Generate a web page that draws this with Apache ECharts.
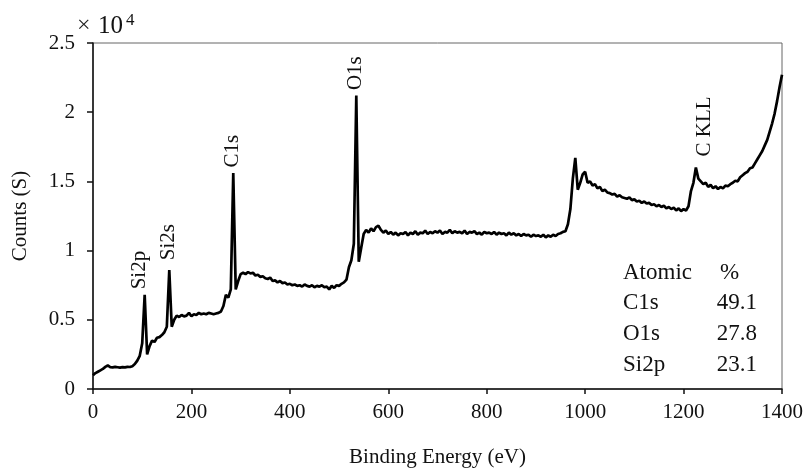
<!DOCTYPE html>
<html>
<head>
<meta charset="utf-8">
<script src="https://cdn.jsdelivr.net/npm/echarts@6/dist/echarts.min.js"></script>
<style>
  html, body { margin: 0; padding: 0; background: #fff; }
  #main { width: 810px; height: 474px; }
</style>
</head>
<body>
<div id="main"></div>
<script>
// XPS survey spectrum, one reading every 5 eV from 0 to 1400 eV
const energyStep = 5
const counts = [
  1000, 1150, 1250, 1350, 1450, 1600, 1700, 1580, 1560, 1600,
  1570, 1540, 1580, 1560, 1600, 1590, 1650, 1800, 2050, 2400,
  3300, 6800, 2500, 3100, 3500, 3400, 3700, 3750, 3900, 4100,
  4500, 8600, 4500, 5000, 5300, 5200, 5350, 5250, 5300, 5500,
  5250, 5400, 5350, 5500, 5400, 5450, 5400, 5500, 5450, 5400,
  5450, 5500, 5600, 6000, 6800, 6600, 7200, 15600, 7200, 7800,
  8300, 8400, 8300, 8450, 8350, 8400, 8200, 8250, 8100, 8150,
  8000, 7950, 8050, 7800, 7850, 7700, 7800, 7650, 7700, 7550,
  7600, 7500, 7550, 7450, 7500, 7400, 7550, 7450, 7400, 7500,
  7350, 7450, 7400, 7500, 7350, 7400, 7200, 7450, 7300, 7500,
  7450, 7600, 7700, 7900, 8800, 9300, 10500, 21200, 9200, 10200,
  11200, 11500, 11300, 11600, 11400, 11700, 11800, 11500, 11300, 11450,
  11200, 11350, 11150, 11300, 11100, 11250, 11200, 11350, 11100, 11300,
  11200, 11400, 11150, 11300, 11250, 11450, 11200, 11350, 11250, 11400,
  11300, 11450, 11200, 11350, 11300, 11500, 11250, 11400, 11300, 11350,
  11250, 11450, 11200, 11350, 11300, 11400, 11200, 11300, 11150, 11350,
  11250, 11300, 11200, 11350, 11150, 11300, 11200, 11250, 11100, 11300,
  11150, 11250, 11100, 11200, 11050, 11200, 11100, 11150, 11000, 11150,
  11050, 11100, 11000, 11150, 10950, 11100, 11000, 11150, 11050, 11200,
  11250, 11350, 11400, 11900, 13000, 15200, 16700, 14400, 14900, 15500,
  15700, 14900, 15000, 14700, 14800, 14500, 14600, 14300, 14400, 14200,
  14150, 14050, 14100, 13900, 14000, 13850, 13800, 13750, 13850, 13650,
  13700, 13550, 13600, 13450, 13550, 13400, 13450, 13300, 13350, 13200,
  13300, 13150, 13250, 13050, 13150, 13000, 13100, 12900, 13050, 12850,
  13000, 12900, 13200, 14300, 14900, 16000, 15200, 15000, 14800, 14900,
  14600, 14750, 14500, 14650, 14450, 14600, 14500, 14700, 14650, 14800,
  14900, 15050, 15000, 15300, 15450, 15600, 15700, 15950, 16000, 16300,
  16600, 16900, 17200, 17600, 18000, 18600, 19200, 19900, 20800, 21800,
  22700
]
const energy = counts.map((c, i) => i * energyStep)

const yTickLabels = ['0', '0.5', '1', '1.5', '2', '2.5']

// peak labels: name, energy of the label, counts where the label starts
const peakNames = ['Si2p', 'Si2s', 'C1s', 'O1s', 'C KLL']
const peakEnergy = [95, 153, 284, 534, 1243]
const peakLabelBase = [7200, 9300, 16000, 21600, 16800]

// atomic composition table
const tableElements = ['C1s', 'O1s', 'Si2p']
const tablePercent = ['49.1', '27.8', '23.1']

const serif = '"Liberation Serif", "Times New Roman", serif'

var myChart = echarts.init(document.getElementById('main'))

myChart.setOption({
  animation: false,
  grid: {
    left: 93, right: 28, top: 43, bottom: 85,
    show: true, borderColor: '#666', borderWidth: 1
  },
  xAxis: {
    type: 'value',
    min: 0, max: 1400, interval: 200,
    name: 'Binding Energy (eV)',
    nameLocation: 'middle',
    nameGap: 58,
    nameTextStyle: { fontFamily: serif, fontSize: 21, color: '#111' },
    axisLine: { lineStyle: { color: '#111', width: 1.5 } },
    axisTick: { show: true, length: 5, lineStyle: { color: '#111', width: 1.5 } },
    axisLabel: {
      fontFamily: serif, fontSize: 21, color: '#111', margin: 13,
      formatter: (v) => String(v)
    },
    splitLine: { show: false }
  },
  yAxis: {
    type: 'value',
    min: 0, max: 25000, interval: 5000,
    name: 'Counts (S)',
    nameLocation: 'middle',
    nameGap: 62,
    nameTextStyle: { fontFamily: serif, fontSize: 21, color: '#111' },
    axisLine: { show: true, lineStyle: { color: '#111', width: 1.5 } },
    axisTick: { show: true, length: 6, lineStyle: { color: '#111', width: 1.5 } },
    axisLabel: {
      fontFamily: serif, fontSize: 21, color: '#111', margin: 18,
      formatter: (v) => yTickLabels[Math.round(v / 5000)]
    },
    splitLine: { show: false }
  },
  series: [{
    type: 'line',
    data: energy.map((e, i) => [e, counts[i]]),
    showSymbol: false,
    lineStyle: { color: '#000', width: 2.7 },
    clip: true
  }]
})

// texts placed after the axes exist
const graphics = []

peakNames.forEach((name, i) => {
  const p = myChart.convertToPixel({ gridIndex: 0 }, [peakEnergy[i], peakLabelBase[i]])
  graphics.push({
    type: 'text',
    x: p[0], y: p[1],
    rotation: Math.PI / 2,
    style: {
      text: name, fontFamily: serif, fontSize: 21, fill: '#111',
      align: 'left', verticalAlign: 'middle'
    }
  })
})

// exponent of the y axis
graphics.push({
  type: 'text', x: 77, y: 26,
  style: { text: '×', fontFamily: serif, fontSize: 24, fill: '#222', align: 'left', verticalAlign: 'middle' }
})
graphics.push({
  type: 'text', x: 98, y: 26,
  style: { text: '10', fontFamily: serif, fontSize: 25, fill: '#111', align: 'left', verticalAlign: 'middle' }
})
graphics.push({
  type: 'text', x: 126, y: 21,
  style: { text: '4', fontFamily: serif, fontSize: 17, fill: '#111', align: 'left', verticalAlign: 'middle' }
})

// atomic % table
const rowY = [273, 303, 334, 365]
graphics.push({
  type: 'text', x: 623, y: rowY[0],
  style: { text: 'Atomic', fontFamily: serif, fontSize: 23, fill: '#111', align: 'left', verticalAlign: 'middle' }
})
graphics.push({
  type: 'text', x: 720, y: rowY[0],
  style: { text: '%', fontFamily: serif, fontSize: 23, fill: '#111', align: 'left', verticalAlign: 'middle' }
})
tableElements.forEach((el, i) => {
  graphics.push({
    type: 'text', x: 623, y: rowY[i + 1],
    style: { text: el, fontFamily: serif, fontSize: 23, fill: '#111', align: 'left', verticalAlign: 'middle' }
  })
  graphics.push({
    type: 'text', x: 757, y: rowY[i + 1],
    style: { text: tablePercent[i], fontFamily: serif, fontSize: 23, fill: '#111', align: 'right', verticalAlign: 'middle' }
  })
})

myChart.setOption({ graphic: graphics })
</script>
</body>
</html>
